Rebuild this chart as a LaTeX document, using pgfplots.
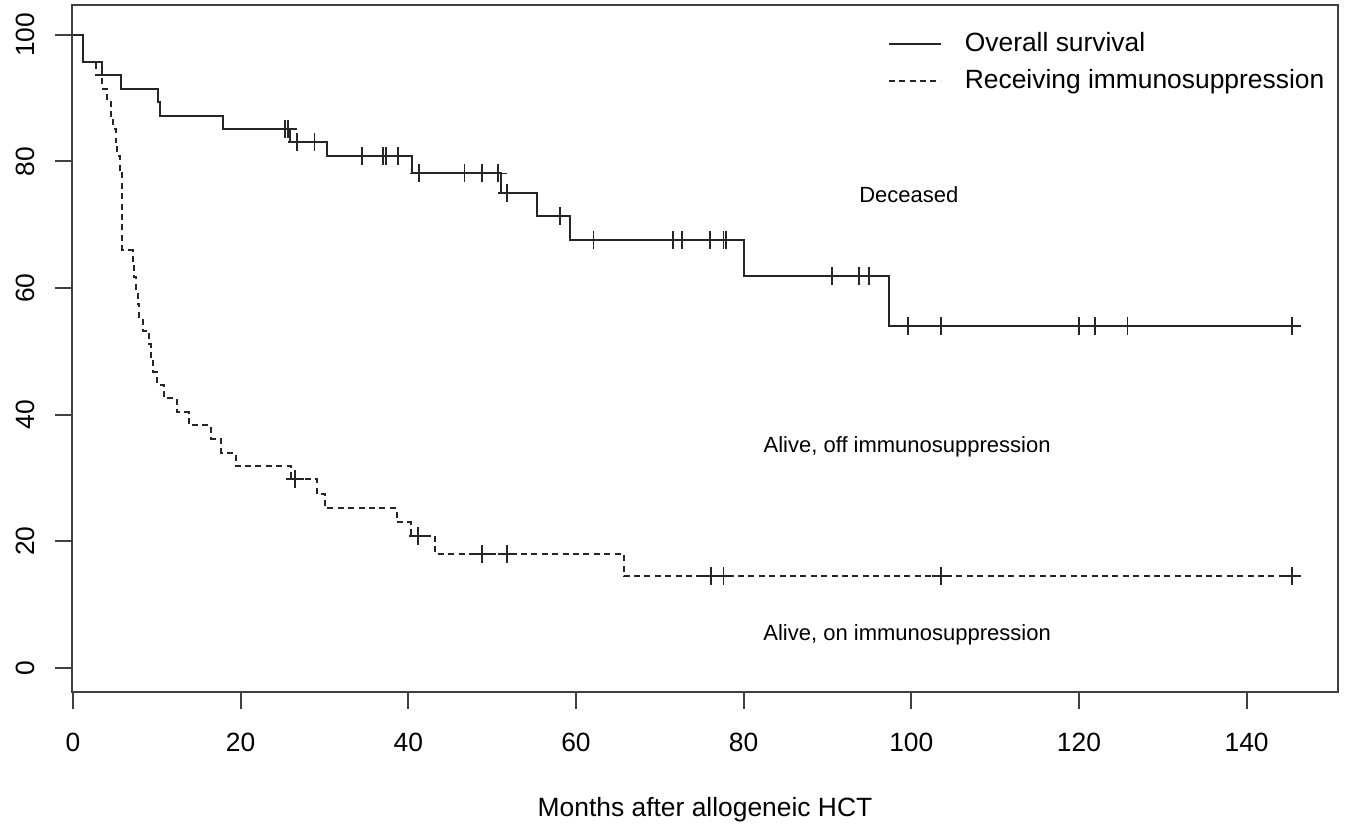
\documentclass[border=0pt]{standalone}
\usepackage{fontspec}
\setmainfont{Liberation Sans}
\usepackage{pgfplots}
\usepackage{pgfplotstable}
\pgfplotsset{compat=1.18}

\pgfplotstableread{
t s
0 100
1.2 95.7
3.4 93.6
5.7 91.5
10.1 89.4
10.4 87.2
17.9 85.1
25.9 83.0
30.3 80.8
40.4 78.1
51.0 75.0
55.3 71.3
59.3 67.6
80.0 61.9
97.3 54.0
145.4 54.0
}\overall

\pgfplotstableread{
t s
25.3 85.1
25.6 85.1
26.7 83.0
28.8 83.0
34.5 80.8
37.0 80.8
37.3 80.8
38.8 80.8
41.3 78.1
46.7 78.1
48.8 78.1
50.7 78.1
51.8 75.0
58.1 71.3
62.1 67.6
71.6 67.6
72.6 67.6
76.0 67.6
77.6 67.6
77.9 67.6
90.5 61.9
93.8 61.9
95.0 61.9
99.6 54.0
103.5 54.0
120.0 54.0
121.9 54.0
125.8 54.0
145.4 54.0
}\overallcens

\pgfplotstableread{
t s
0 100
1.2 95.7
2.8 93.6
3.5 91.5
4.1 89.4
4.5 87.2
4.8 85.1
5.1 83.0
5.3 80.9
5.6 78.7
5.9 66.0
7.1 63.8
7.3 61.7
7.5 59.6
7.7 57.4
7.9 55.3
8.3 53.2
9.1 51.1
9.3 48.9
9.6 46.8
10.0 44.7
10.8 42.6
12.4 40.4
13.8 38.3
16.5 36.2
17.7 34.0
19.4 31.9
26.0 29.8
29.1 27.5
30.1 25.2
38.6 23.0
40.3 20.9
43.2 18.0
65.7 14.5
145.4 14.5
}\immuno

\pgfplotstableread{
t s
26.5 29.8
41.2 20.9
48.8 18.0
51.8 18.0
76.1 14.5
77.6 14.5
103.5 14.5
145.4 14.5
}\immunocens

\begin{document}
\begin{tikzpicture}
\useasboundingbox (-36pt,-68.5pt) rectangle (638.5pt,346pt);
\begin{axis}[
  at={(0pt,0pt)}, anchor=south west,
  scale only axis, width=633pt, height=343.5pt,
  xmin=-0.12, xmax=150.9, ymin=-3.8, ymax=104.7,
  xtick={0,20,...,140}, ytick={0,20,...,100},
  tick align=outside, xtick pos=bottom, ytick pos=left,
  major tick length=8.5pt,
  tick style={line width=0.9pt, black!75},
  axis line style={line width=0.9pt, black!75},
  /pgf/number format/assume math mode=true,
  ticklabel style={font=\fontsize{13.2}{15}\selectfont, inner sep=0pt},
  yticklabel style={rotate=90, anchor=south},
  xticklabel style={anchor=north},
  xticklabel shift=12pt, yticklabel shift=10pt,
  xlabel={Months after allogeneic HCT},
  xlabel style={at={(axis description cs:0.5,0)}, anchor=north, inner sep=0pt, yshift=-52.5pt, font=\fontsize{13.2}{15}\selectfont},
  legend cell align=left,
  legend image code/.code={\draw[#1] (0pt,0pt) -- (26pt,0pt);},
  legend style={at={(axis cs:97.2,99.6)}, anchor=north west, draw=none, fill=none,
    inner sep=0pt, outer sep=0pt, row sep=11pt,
    font=\fontsize{13.2}{15}\selectfont,
    nodes={text height=0.72em, text depth=0pt, inner sep=0pt},
    /tikz/every odd column/.append style={column sep=11.5pt}},
]
\addplot[const plot, line width=1pt, black!85] table[x=t,y=s]{\overall};
\addlegendentry{Overall survival}
\addplot[const plot, line width=1pt, black!85, dash pattern=on 3pt off 2.2pt] table[x=t,y=s]{\immuno};
\addlegendentry{Receiving immunosuppression}
\addplot[only marks, mark=+, mark size=4.5pt, black!85, line width=0.9pt, forget plot] table[x=t,y=s]{\overallcens};
\addplot[only marks, mark=+, mark size=4.5pt, black!85, line width=0.9pt, forget plot] table[x=t,y=s]{\immunocens};
\node[font=\fontsize{11}{13}\selectfont] at (axis cs:99.7,74.7) {Deceased};
\node[font=\fontsize{11}{13}\selectfont] at (axis cs:99.5,34.9) {Alive, off immunosuppression};
\node[font=\fontsize{11}{13}\selectfont] at (axis cs:99.5,5.2) {Alive, on immunosuppression};
\end{axis}
\end{tikzpicture}
\end{document}
